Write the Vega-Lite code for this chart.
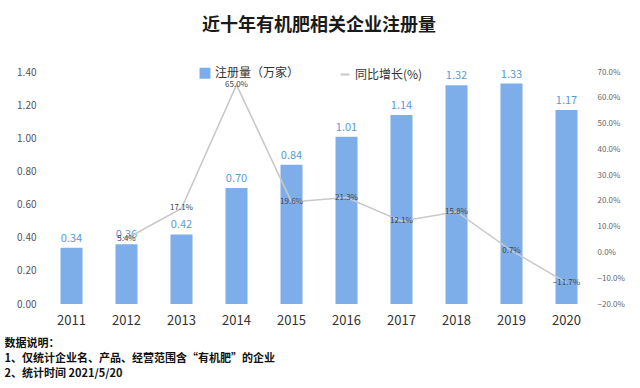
{
  "$schema": "https://vega.github.io/schema/vega-lite/v6.json",
  "autosize": "none",
  "width": 550,
  "height": 232,
  "padding": {"left": 44, "top": 72, "right": 46, "bottom": 84},
  "config": {"font": "Noto Sans CJK SC", "view": {"stroke": null}},
  "title": {"text": "近十年有机肥相关企业注册量", "fontSize": 18, "fontWeight": "bold", "color": "#1a1a1a", "offset": 32, "anchor": "middle"},
  "data": {"values": [
    {"year": "2011", "count": 0.34, "growth": null},
    {"year": "2012", "count": 0.36, "growth": 5.4},
    {"year": "2013", "count": 0.42, "growth": 17.1},
    {"year": "2014", "count": 0.70, "growth": 65.0},
    {"year": "2015", "count": 0.84, "growth": 19.6},
    {"year": "2016", "count": 1.01, "growth": 21.3},
    {"year": "2017", "count": 1.14, "growth": 12.1},
    {"year": "2018", "count": 1.32, "growth": 15.8},
    {"year": "2019", "count": 1.33, "growth": 0.7},
    {"year": "2020", "count": 1.17, "growth": -11.7}
  ]},
  "encoding": {
    "x": {"field": "year", "type": "ordinal", "scale": {"paddingInner": 0.6, "paddingOuter": 0.3},
      "axis": {"labelAngle": 0, "labelFontSize": 13, "labelColor": "#333", "labelPadding": 10, "ticks": false, "domain": false,
        "title": ["数据说明：", "1、仅统计企业名、产品、经营范围含“有机肥”的企业", "2、统计时间 2021/5/20"],
        "titleAnchor": "start", "titleAlign": "left", "titleX": -40, "titleY": 33, "titleBaseline": "top",
        "titleFontSize": 11, "titleFontWeight": "bold", "titleColor": "#111", "titleLineHeight": 15}}
  },
  "layer": [
    {
      "encoding": {
        "y": {"field": "count", "type": "quantitative", "scale": {"domain": [0, 1.4]},
          "axis": {"title": null, "values": [0, 0.2, 0.4, 0.6, 0.8, 1.0, 1.2, 1.4], "format": ".2f", "labelOverlap": false, "grid": false, "domain": false, "ticks": false, "labelPadding": 8, "labelFontSize": 10, "labelColor": "#555"}}
      },
      "layer": [
        {"mark": {"type": "bar", "color": "#7eaee9"},
         "encoding": {
           "color": {"datum": "注册量（万家）", "type": "nominal",
             "scale": {"domain": ["注册量（万家）", "同比增长(%)"], "range": ["#7eaee9", "#c8c8c8"]},
             "legend": {"title": null, "orient": "none", "direction": "horizontal", "legendX": 155, "legendY": -5,
               "labelFontSize": 12, "labelColor": "#333", "columnPadding": 36, "symbolSize": 80,
               "encode": {"symbols": {"update": {
                 "shape": {"signal": "datum.value === '注册量（万家）' ? 'square' : 'stroke'"},
                 "fill": {"signal": "datum.value === '注册量（万家）' ? '#7eaee9' : 'transparent'"},
                 "stroke": {"signal": "datum.value === '注册量（万家）' ? 'transparent' : '#c8c8c8'"},
                 "strokeWidth": {"value": 2}
               }}}}}
         }},
        {"mark": {"type": "text", "dy": -9, "fontSize": 11, "color": "#5b9bd5"},
         "encoding": {
           "text": {"field": "count", "type": "quantitative", "format": ".2f"}
         }}
      ]
    },
    {
      "encoding": {
        "y": {"field": "growth", "type": "quantitative", "scale": {"domain": [-20, 70]},
          "axis": {"orient": "right", "title": null, "values": [-20, -10, 0, 10, 20, 30, 40, 50, 60, 70], "labelOverlap": false, "labelExpr": "format(datum.value, '.1f') + '%'", "grid": false, "domain": false, "ticks": false, "labelPadding": 3, "labelFontSize": 8, "labelColor": "#666"}}
      },
      "layer": [
        {"mark": {"type": "line", "color": "#c8c8c8", "strokeWidth": 1.5},
         "encoding": {
           "color": {"datum": "同比增长(%)", "type": "nominal"}
         }},
        {"mark": {"type": "text", "fontSize": 8, "color": "#444", "baseline": "middle"},
         "transform": [{"filter": "datum.growth !== null"}, {"calculate": "format(datum.growth, '.1f') + '%'", "as": "glabel"}],
         "encoding": {
           "text": {"field": "glabel", "type": "nominal"}
         }
        }
      ]
    }
  ],
  "resolve": {"scale": {"y": "independent"}}
}
